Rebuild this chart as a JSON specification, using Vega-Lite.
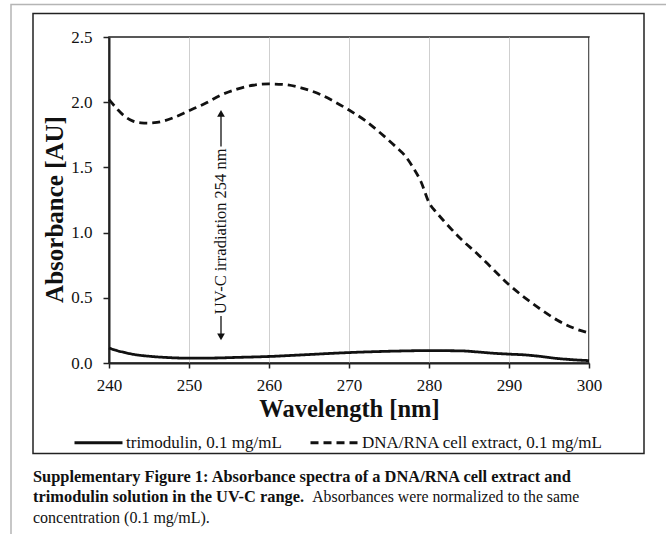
{
  "$schema": "https://vega.github.io/schema/vega-lite/v6.json",
  "autosize": "none",
  "width": 480,
  "height": 326,
  "padding": {"left": 109, "top": 37, "right": 77, "bottom": 171},
  "background": "#ffffff",
  "data": {"values": [{}]},
  "config": {
    "font": "Liberation Serif",
    "view": {"stroke": "#222222", "strokeWidth": 1.5},
    "axis": {
      "labelFont": "Liberation Serif",
      "titleFont": "Liberation Serif",
      "labelColor": "#111111",
      "titleColor": "#111111",
      "domainColor": "#222222",
      "domainWidth": 2,
      "tickColor": "#222222",
      "tickWidth": 1.5
    },
    "legend": {
      "labelFont": "Liberation Serif",
      "labelFontSize": 17,
      "labelColor": "#111111",
      "labelLimit": 400
    }
  },
  "layer": [
    {
      "mark": {"type": "rect", "fill": null, "stroke": "#b5b5b5", "strokeWidth": 1.5},
      "encoding": {
        "x": {"datum": 227.75, "type": "quantitative", "scale": {"domain": [240, 300], "nice": false, "zero": false}},
        "x2": {"datum": 318},
        "y": {"datum": 2.749, "type": "quantitative", "scale": {"domain": [0, 2.5], "nice": false}},
        "y2": {"datum": -1.5}
      }
    },
    {
      "mark": {"type": "rect", "fill": null, "stroke": "#222222", "strokeWidth": 1.5},
      "encoding": {
        "x": {"datum": 230.5, "type": "quantitative"},
        "x2": {"datum": 306.875},
        "y": {"datum": 2.68, "type": "quantitative"},
        "y2": {"datum": -0.694}
      }
    },
    {
      "data": {
        "values": [
          {"wl": 240, "abs": 0.115, "series": "trimodulin, 0.1 mg/mL"},
          {"wl": 241, "abs": 0.095, "series": "trimodulin, 0.1 mg/mL"},
          {"wl": 242, "abs": 0.08, "series": "trimodulin, 0.1 mg/mL"},
          {"wl": 243, "abs": 0.067, "series": "trimodulin, 0.1 mg/mL"},
          {"wl": 245, "abs": 0.052, "series": "trimodulin, 0.1 mg/mL"},
          {"wl": 247, "abs": 0.043, "series": "trimodulin, 0.1 mg/mL"},
          {"wl": 250, "abs": 0.037, "series": "trimodulin, 0.1 mg/mL"},
          {"wl": 253, "abs": 0.038, "series": "trimodulin, 0.1 mg/mL"},
          {"wl": 256, "abs": 0.043, "series": "trimodulin, 0.1 mg/mL"},
          {"wl": 260, "abs": 0.05, "series": "trimodulin, 0.1 mg/mL"},
          {"wl": 265, "abs": 0.065, "series": "trimodulin, 0.1 mg/mL"},
          {"wl": 270, "abs": 0.08, "series": "trimodulin, 0.1 mg/mL"},
          {"wl": 275, "abs": 0.09, "series": "trimodulin, 0.1 mg/mL"},
          {"wl": 280, "abs": 0.095, "series": "trimodulin, 0.1 mg/mL"},
          {"wl": 284, "abs": 0.093, "series": "trimodulin, 0.1 mg/mL"},
          {"wl": 286, "abs": 0.085, "series": "trimodulin, 0.1 mg/mL"},
          {"wl": 288, "abs": 0.075, "series": "trimodulin, 0.1 mg/mL"},
          {"wl": 290, "abs": 0.068, "series": "trimodulin, 0.1 mg/mL"},
          {"wl": 292, "abs": 0.062, "series": "trimodulin, 0.1 mg/mL"},
          {"wl": 294, "abs": 0.05, "series": "trimodulin, 0.1 mg/mL"},
          {"wl": 296, "abs": 0.035, "series": "trimodulin, 0.1 mg/mL"},
          {"wl": 298, "abs": 0.025, "series": "trimodulin, 0.1 mg/mL"},
          {"wl": 300, "abs": 0.018, "series": "trimodulin, 0.1 mg/mL"},
          {"wl": 240, "abs": 2.02, "series": "DNA/RNA cell extract, 0.1 mg/mL"},
          {"wl": 241, "abs": 1.95, "series": "DNA/RNA cell extract, 0.1 mg/mL"},
          {"wl": 242, "abs": 1.89, "series": "DNA/RNA cell extract, 0.1 mg/mL"},
          {"wl": 243, "abs": 1.855, "series": "DNA/RNA cell extract, 0.1 mg/mL"},
          {"wl": 244, "abs": 1.842, "series": "DNA/RNA cell extract, 0.1 mg/mL"},
          {"wl": 245, "abs": 1.84, "series": "DNA/RNA cell extract, 0.1 mg/mL"},
          {"wl": 246, "abs": 1.845, "series": "DNA/RNA cell extract, 0.1 mg/mL"},
          {"wl": 248, "abs": 1.88, "series": "DNA/RNA cell extract, 0.1 mg/mL"},
          {"wl": 250, "abs": 1.935, "series": "DNA/RNA cell extract, 0.1 mg/mL"},
          {"wl": 252, "abs": 1.99, "series": "DNA/RNA cell extract, 0.1 mg/mL"},
          {"wl": 254, "abs": 2.055, "series": "DNA/RNA cell extract, 0.1 mg/mL"},
          {"wl": 256, "abs": 2.1, "series": "DNA/RNA cell extract, 0.1 mg/mL"},
          {"wl": 258, "abs": 2.13, "series": "DNA/RNA cell extract, 0.1 mg/mL"},
          {"wl": 260, "abs": 2.14, "series": "DNA/RNA cell extract, 0.1 mg/mL"},
          {"wl": 262, "abs": 2.135, "series": "DNA/RNA cell extract, 0.1 mg/mL"},
          {"wl": 264, "abs": 2.11, "series": "DNA/RNA cell extract, 0.1 mg/mL"},
          {"wl": 266, "abs": 2.07, "series": "DNA/RNA cell extract, 0.1 mg/mL"},
          {"wl": 268, "abs": 2.01, "series": "DNA/RNA cell extract, 0.1 mg/mL"},
          {"wl": 270, "abs": 1.94, "series": "DNA/RNA cell extract, 0.1 mg/mL"},
          {"wl": 272, "abs": 1.86, "series": "DNA/RNA cell extract, 0.1 mg/mL"},
          {"wl": 274, "abs": 1.76, "series": "DNA/RNA cell extract, 0.1 mg/mL"},
          {"wl": 276, "abs": 1.65, "series": "DNA/RNA cell extract, 0.1 mg/mL"},
          {"wl": 277, "abs": 1.59, "series": "DNA/RNA cell extract, 0.1 mg/mL"},
          {"wl": 278, "abs": 1.5, "series": "DNA/RNA cell extract, 0.1 mg/mL"},
          {"wl": 279, "abs": 1.39, "series": "DNA/RNA cell extract, 0.1 mg/mL"},
          {"wl": 280, "abs": 1.23, "series": "DNA/RNA cell extract, 0.1 mg/mL"},
          {"wl": 281, "abs": 1.15, "series": "DNA/RNA cell extract, 0.1 mg/mL"},
          {"wl": 282, "abs": 1.08, "series": "DNA/RNA cell extract, 0.1 mg/mL"},
          {"wl": 284, "abs": 0.95, "series": "DNA/RNA cell extract, 0.1 mg/mL"},
          {"wl": 286, "abs": 0.84, "series": "DNA/RNA cell extract, 0.1 mg/mL"},
          {"wl": 288, "abs": 0.72, "series": "DNA/RNA cell extract, 0.1 mg/mL"},
          {"wl": 290, "abs": 0.6, "series": "DNA/RNA cell extract, 0.1 mg/mL"},
          {"wl": 292, "abs": 0.5, "series": "DNA/RNA cell extract, 0.1 mg/mL"},
          {"wl": 294, "abs": 0.41, "series": "DNA/RNA cell extract, 0.1 mg/mL"},
          {"wl": 296, "abs": 0.33, "series": "DNA/RNA cell extract, 0.1 mg/mL"},
          {"wl": 298, "abs": 0.27, "series": "DNA/RNA cell extract, 0.1 mg/mL"},
          {"wl": 300, "abs": 0.23, "series": "DNA/RNA cell extract, 0.1 mg/mL"}
        ]
      },
      "mark": {"type": "line", "interpolate": "monotone", "color": "#111111", "strokeWidth": 2.8},
      "encoding": {
        "x": {
          "field": "wl",
          "type": "quantitative",
          "axis": {
            "title": "Wavelength [nm]",
            "titleFontSize": 24.5,
            "titleFontWeight": "bold",
            "titlePadding": 4,
            "values": [240, 250, 260, 270, 280, 290, 300],
            "labelFontSize": 17,
            "labelPadding": 9,
            "tickSize": 5,
            "grid": true,
            "gridColor": "#cfcfcf",
            "gridWidth": 1,
            "labelFlush": false
          }
        },
        "y": {
          "field": "abs",
          "type": "quantitative",
          "axis": {
            "title": "Absorbance [AU]",
            "titleFontSize": 25,
            "titleFontWeight": "bold",
            "titlePadding": 3,
            "titleY": 172,
            "values": [0, 0.5, 1, 1.5, 2, 2.5],
            "format": ".1f",
            "labelFontSize": 17,
            "labelPadding": 11,
            "tickSize": 6,
            "grid": false,
            "labelFlush": false
          }
        },
        "detail": {"field": "series"},
        "strokeDash": {
          "field": "series",
          "type": "nominal",
          "scale": {
            "domain": ["trimodulin, 0.1 mg/mL", "DNA/RNA cell extract, 0.1 mg/mL"],
            "range": [[1, 0], [8, 5]]
          },
          "legend": {
            "title": null,
            "orient": "none",
            "direction": "horizontal",
            "legendX": -36,
            "legendY": 380,
            "symbolType": "stroke",
            "symbolSize": 2304,
            "symbolStrokeWidth": 3,
            "symbolStrokeColor": "#111111",
            "labelOffset": 2,
            "columnPadding": 22
          }
        }
      }
    },
    {
      "mark": {"type": "rule", "color": "#111111", "strokeWidth": 1.3},
      "encoding": {
        "x": {"datum": 254, "type": "quantitative"},
        "y": {"datum": 0.2, "type": "quantitative"},
        "y2": {"datum": 0.36}
      }
    },
    {
      "mark": {"type": "rule", "color": "#111111", "strokeWidth": 1.3},
      "encoding": {
        "x": {"datum": 254, "type": "quantitative"},
        "y": {"datum": 1.66, "type": "quantitative"},
        "y2": {"datum": 1.91}
      }
    },
    {
      "mark": {"type": "point", "shape": "triangle-up", "filled": true, "color": "#111111", "size": 60, "opacity": 1},
      "encoding": {
        "x": {"datum": 254, "type": "quantitative"},
        "y": {"datum": 1.915, "type": "quantitative"}
      }
    },
    {
      "mark": {"type": "point", "shape": "triangle-down", "filled": true, "color": "#111111", "size": 60, "opacity": 1},
      "encoding": {
        "x": {"datum": 254, "type": "quantitative"},
        "y": {"datum": 0.2, "type": "quantitative"}
      }
    },
    {
      "mark": {"type": "text", "text": "UV-C irradiation 254 nm", "angle": 270, "align": "center", "baseline": "middle", "font": "Liberation Serif", "fontSize": 16.5, "color": "#111111"},
      "encoding": {
        "x": {"datum": 254, "type": "quantitative"},
        "y": {"datum": 1.01, "type": "quantitative"}
      }
    },
    {
      "mark": {"type": "text", "text": "Supplementary Figure 1: Absorbance spectra of a DNA/RNA cell extract and", "align": "left", "baseline": "middle", "font": "Liberation Serif", "fontSize": 16.4, "fontWeight": "bold", "color": "#111111"},
      "encoding": {
        "x": {"datum": 230.5, "type": "quantitative"},
        "y": {"datum": -0.878, "type": "quantitative"}
      }
    },
    {
      "mark": {"type": "text", "text": "trimodulin solution in the UV-C range.", "align": "left", "baseline": "middle", "font": "Liberation Serif", "fontSize": 16.4, "fontWeight": "bold", "color": "#111111"},
      "encoding": {
        "x": {"datum": 230.5, "type": "quantitative"},
        "y": {"datum": -1.031, "type": "quantitative"}
      }
    },
    {
      "mark": {"type": "text", "text": "Absorbances were normalized to the same", "align": "left", "baseline": "middle", "font": "Liberation Serif", "fontSize": 15.8, "color": "#111111"},
      "encoding": {
        "x": {"datum": 265.4, "type": "quantitative"},
        "y": {"datum": -1.031, "type": "quantitative"}
      }
    },
    {
      "mark": {"type": "text", "text": "concentration (0.1 mg/mL).", "align": "left", "baseline": "middle", "font": "Liberation Serif", "fontSize": 16, "color": "#111111"},
      "encoding": {
        "x": {"datum": 230.5, "type": "quantitative"},
        "y": {"datum": -1.185, "type": "quantitative"}
      }
    }
  ]
}
